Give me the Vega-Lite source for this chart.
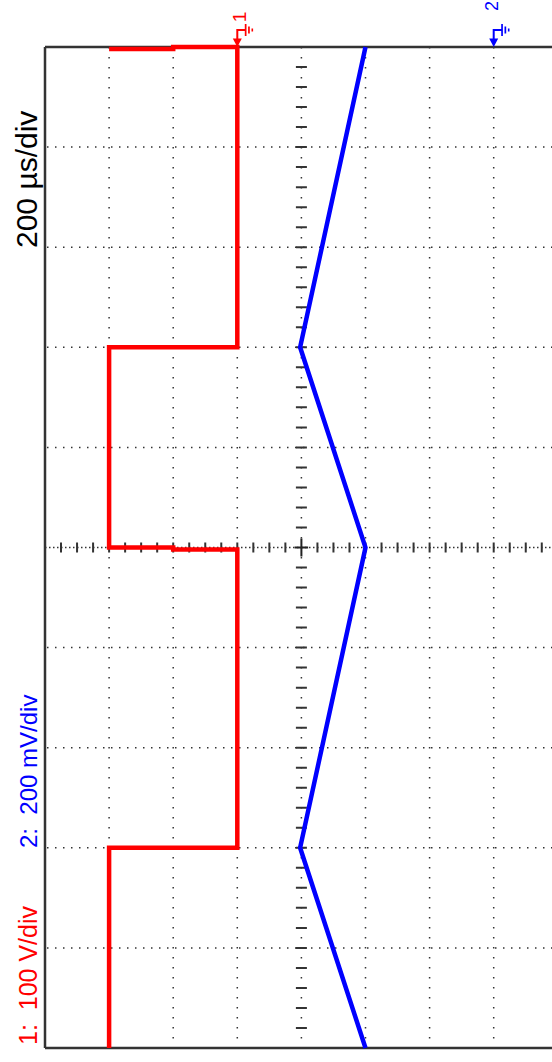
{
  "$schema": "https://vega.github.io/schema/vega-lite/v6.json",
  "width": 507,
  "height": 1001,
  "autosize": {"type": "none"},
  "padding": {"left": 45, "top": 47, "right": 0, "bottom": 14},
  "background": "#ffffff",
  "config": {"view": {"stroke": null}},
  "data": {"values": [{"note": "oscilloscope screen"}]},
  "datasets": {
    "vgrid": [{"v": 1}, {"v": 2}, {"v": 3}, {"v": 4}, {"v": 5}, {"v": 6}, {"v": 7}],
    "hgrid": [{"t": 1}, {"t": 2}, {"t": 3}, {"t": 4}, {"t": 6}, {"t": 7}, {"t": 8}, {"t": 9}],
    "vticks": [{"t": 0.2}, {"t": 0.4}, {"t": 0.6}, {"t": 0.8}, {"t": 1}, {"t": 1.2}, {"t": 1.4}, {"t": 1.6}, {"t": 1.8}, {"t": 2}, {"t": 2.2}, {"t": 2.4}, {"t": 2.6}, {"t": 2.8}, {"t": 3}, {"t": 3.2}, {"t": 3.4}, {"t": 3.6}, {"t": 3.8}, {"t": 4}, {"t": 4.2}, {"t": 4.4}, {"t": 4.6}, {"t": 4.8}, {"t": 5.2}, {"t": 5.4}, {"t": 5.6}, {"t": 5.8}, {"t": 6}, {"t": 6.2}, {"t": 6.4}, {"t": 6.6}, {"t": 6.8}, {"t": 7}, {"t": 7.2}, {"t": 7.4}, {"t": 7.6}, {"t": 7.8}, {"t": 8}, {"t": 8.2}, {"t": 8.4}, {"t": 8.6}, {"t": 8.8}, {"t": 9}, {"t": 9.2}, {"t": 9.4}, {"t": 9.6}, {"t": 9.8}],
    "hticks": [{"v": 0.25}, {"v": 0.5}, {"v": 0.75}, {"v": 1}, {"v": 1.25}, {"v": 1.5}, {"v": 1.75}, {"v": 2}, {"v": 2.25}, {"v": 2.5}, {"v": 2.75}, {"v": 3}, {"v": 3.25}, {"v": 3.5}, {"v": 3.75}, {"v": 4.25}, {"v": 4.5}, {"v": 4.75}, {"v": 5}, {"v": 5.25}, {"v": 5.5}, {"v": 5.75}, {"v": 6}, {"v": 6.25}, {"v": 6.5}, {"v": 6.75}, {"v": 7}, {"v": 7.25}, {"v": 7.5}, {"v": 7.75}],
    "traces": [
      {"ch": "1", "i": 0, "t": 0.02, "v": 1},
      {"ch": "1", "i": 1, "t": 0.02, "v": 2},
      {"ch": "1", "i": 2, "t": 0, "v": 2},
      {"ch": "1", "i": 3, "t": 0, "v": 3},
      {"ch": "1", "i": 4, "t": 3, "v": 3},
      {"ch": "1", "i": 5, "t": 3, "v": 1},
      {"ch": "1", "i": 6, "t": 5, "v": 1},
      {"ch": "1", "i": 7, "t": 5, "v": 2},
      {"ch": "1", "i": 8, "t": 5.02, "v": 2},
      {"ch": "1", "i": 9, "t": 5.02, "v": 3},
      {"ch": "1", "i": 10, "t": 8, "v": 3},
      {"ch": "1", "i": 11, "t": 8, "v": 1},
      {"ch": "1", "i": 12, "t": 10, "v": 1},
      {"ch": "2", "i": 0, "t": 0, "v": 5.0},
      {"ch": "2", "i": 1, "t": 3, "v": 3.98},
      {"ch": "2", "i": 2, "t": 5, "v": 5.0},
      {"ch": "2", "i": 3, "t": 8, "v": 3.98},
      {"ch": "2", "i": 4, "t": 10, "v": 5.0}
    ],
    "markers": [{"ch": "1", "v": 3}, {"ch": "2", "v": 7}]
  },
  "layer": [
    {
      "data": {"name": "vgrid"},
      "mark": {"type": "rule", "color": "#333333", "strokeWidth": 1.5, "strokeDash": [1.5, 8.5]},
      "encoding": {
        "x": {"field": "v", "type": "quantitative", "scale": {"domain": [0, 7.9095], "nice": false, "zero": false}, "axis": null},
        "y": {"datum": 0, "type": "quantitative", "scale": {"domain": [0, 10], "reverse": true, "nice": false, "zero": false}, "axis": null},
        "y2": {"datum": 10}
      }
    },
    {
      "data": {"name": "hgrid"},
      "mark": {"type": "rule", "color": "#333333", "strokeWidth": 1.5, "strokeDash": [1.5, 6.5], "strokeDashOffset": 6},
      "encoding": {
        "x": {"datum": 0, "type": "quantitative"},
        "x2": {"datum": 7.9095},
        "y": {"field": "t", "type": "quantitative"}
      }
    },
    {
      "mark": {"type": "rule", "color": "#333333", "strokeWidth": 1.5, "strokeDash": [1.5, 2.5]},
      "encoding": {
        "x": {"datum": 0, "type": "quantitative"},
        "x2": {"datum": 7.9095},
        "y": {"datum": 5, "type": "quantitative"}
      }
    },
    {
      "data": {"name": "vticks"},
      "mark": {"type": "tick", "orient": "horizontal", "color": "#333333", "size": 11, "thickness": 2, "opacity": 1},
      "encoding": {
        "x": {"datum": 4, "type": "quantitative"},
        "y": {"field": "t", "type": "quantitative"}
      }
    },
    {
      "data": {"name": "hticks"},
      "mark": {"type": "tick", "orient": "vertical", "color": "#333333", "size": 10, "thickness": 2, "opacity": 1},
      "encoding": {
        "x": {"field": "v", "type": "quantitative"},
        "y": {"datum": 5, "type": "quantitative"}
      }
    },
    {
      "mark": {"type": "point", "shape": "M-0.75,0H0.75M0,-1V1", "size": 324, "filled": false, "stroke": "#222222", "strokeWidth": 2, "opacity": 1},
      "encoding": {
        "x": {"datum": 4, "type": "quantitative"},
        "y": {"datum": 5, "type": "quantitative"}
      }
    },
    {
      "mark": {"type": "rule", "color": "#333333", "strokeWidth": 2.5},
      "encoding": {
        "x": {"datum": 0, "type": "quantitative"},
        "y": {"datum": 0, "type": "quantitative"},
        "y2": {"datum": 10}
      }
    },
    {
      "mark": {"type": "rule", "color": "#333333", "strokeWidth": 2.5},
      "encoding": {
        "x": {"datum": 0, "type": "quantitative"},
        "x2": {"datum": 7.9095},
        "y": {"datum": 0, "type": "quantitative"}
      }
    },
    {
      "mark": {"type": "rule", "color": "#333333", "strokeWidth": 2.5},
      "encoding": {
        "x": {"datum": 0, "type": "quantitative"},
        "x2": {"datum": 7.9095},
        "y": {"datum": 10, "type": "quantitative"}
      }
    },
    {
      "data": {"name": "traces"},
      "mark": {"type": "line", "strokeWidth": 4.5, "strokeJoin": "miter", "strokeCap": "butt"},
      "encoding": {
        "x": {"field": "v", "type": "quantitative"},
        "y": {"field": "t", "type": "quantitative"},
        "order": {"field": "i", "type": "quantitative"},
        "color": {"field": "ch", "type": "nominal", "scale": {"domain": ["1", "2"], "range": ["#ff0000", "#0000ff"]}, "legend": null}
      }
    },
    {
      "data": {"name": "markers"},
      "mark": {"type": "point", "shape": "M-0.45,-0.85L0.45,-0.85L0,0ZM-0.1,-1.7L0.1,-1.7L0.1,-0.85L-0.1,-0.85ZM-0.1,-1.8L0.75,-1.8L0.75,-1.6L-0.1,-1.6ZM0.75,-2.3L0.92,-2.3L0.92,-1.1L0.75,-1.1ZM1.08,-2.05L1.25,-2.05L1.25,-1.35L1.08,-1.35ZM1.42,-1.85L1.58,-1.85L1.58,-1.55L1.42,-1.55Z", "size": 400, "filled": true, "opacity": 1, "strokeWidth": 0},
      "encoding": {
        "x": {"field": "v", "type": "quantitative"},
        "y": {"datum": 0, "type": "quantitative"},
        "color": {"field": "ch", "type": "nominal", "legend": null}
      }
    },
    {
      "mark": {"type": "text", "text": "1", "angle": 270, "align": "center", "baseline": "alphabetic", "font": "Liberation Sans", "fontSize": 19, "color": "#ff0000"},
      "encoding": {
        "x": {"datum": 3.136, "type": "quantitative"},
        "y": {"datum": -0.3, "type": "quantitative"}
      }
    },
    {
      "mark": {"type": "text", "text": "2", "angle": 270, "align": "center", "baseline": "alphabetic", "font": "Liberation Sans", "fontSize": 18, "color": "#0000ff"},
      "encoding": {
        "x": {"datum": 7.067, "type": "quantitative"},
        "y": {"datum": -0.41, "type": "quantitative"}
      }
    },
    {
      "mark": {"type": "text", "text": "200 µs/div", "angle": 270, "align": "left", "baseline": "alphabetic", "font": "Liberation Sans", "fontSize": 30, "color": "#000000"},
      "encoding": {
        "x": {"datum": -0.125, "type": "quantitative"},
        "y": {"datum": 2.008, "type": "quantitative"}
      }
    },
    {
      "mark": {"type": "text", "text": "1:\u00a0 100 V/div", "angle": 270, "align": "left", "baseline": "alphabetic", "font": "Liberation Sans", "fontSize": 25, "color": "#ff0000"},
      "encoding": {
        "x": {"datum": -0.125, "type": "quantitative"},
        "y": {"datum": 9.97, "type": "quantitative"}
      }
    },
    {
      "mark": {"type": "text", "text": "2:\u00a0 200 mV/div", "angle": 270, "align": "left", "baseline": "alphabetic", "font": "Liberation Sans", "fontSize": 24, "color": "#0000ff"},
      "encoding": {
        "x": {"datum": -0.125, "type": "quantitative"},
        "y": {"datum": 8.002, "type": "quantitative"}
      }
    }
  ]
}
